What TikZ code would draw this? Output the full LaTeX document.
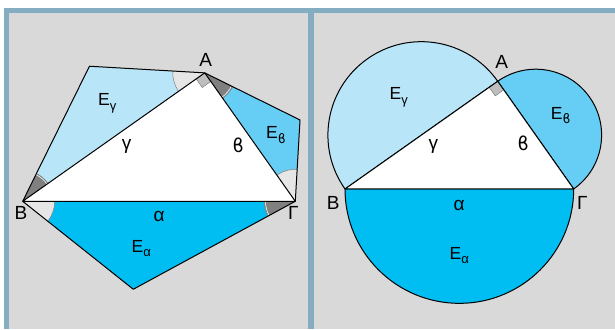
\documentclass[tikz,border=0pt]{standalone}
\usepackage{fontspec}
\setmainfont{Liberation Sans}
\newfontfamily\betafont{DejaVu Sans}
\usepackage{tikz}
\usetikzlibrary{calc,angles}
\definecolor{PanelGray}{RGB}{217,217,217}
\definecolor{FrameBlue}{RGB}{132,173,194}
\definecolor{AreaA}{RGB}{0,189,242}
\definecolor{AreaB}{RGB}{102,205,245}
\definecolor{AreaC}{RGB}{185,229,249}
\definecolor{LightAngle}{RGB}{230,230,230}
\definecolor{DarkAngle}{RGB}{128,128,128}
\definecolor{RightMark}{RGB}{190,190,190}
\newcommand{\vb}{{\betafont ϐ}}
\newcommand{\Esub}[1]{E\raisebox{-0.45ex}{\fontsize{13}{13}\selectfont #1}}

\begin{document}
\begin{tikzpicture}[x=1pt,y=1pt,
  side/.style={draw=black,line width=1pt,line join=round},
  vlabel/.style={font=\fontsize{19}{19}\selectfont,inner sep=0pt},
  slabel/.style={font=\fontsize{19}{19}\selectfont,inner sep=0pt},
  elabel/.style={font=\fontsize{17.5}{17.5}\selectfont,inner sep=0pt},
  lightang/.style={fill=LightAngle,draw=gray,line width=0.5pt,angle radius=32pt},
  darkang/.style={fill=DarkAngle,draw=gray,line width=0.5pt,angle radius=31pt},
  darkrim/.style={draw=white,line width=0.6pt,angle radius=29.8pt},
  rmark/.style={fill=RightMark,draw=gray,line width=0.5pt}]
  % background and frame
  \fill[white] (0,0) rectangle (615,329);
  \fill[FrameBlue] (3.5,0) rectangle (615,320.5);
  \fill[PanelGray] (9,0) rectangle (308.3,315.7);
  \fill[PanelGray] (314,0) rectangle (615,315.7);
  % left panel: similar triangles on the sides
  \coordinate (B) at (22.7,127.7);
  \coordinate (G) at (295.3,127.7);
  \coordinate (A) at ($(B)+(35.2:222.8)$);
  \coordinate (D) at ($(B)!0.5184!-38.5:(G)$);
  \coordinate (T) at ($(A)!0.5184!-38.5:(B)$);
  \coordinate (R) at ($(G)!0.5184!-38.5:(A)$);
  \fill[AreaA] (B) -- (D) -- (G) -- cycle;
  \fill[AreaC] (A) -- (T) -- (B) -- cycle;
  \fill[AreaB] (G) -- (R) -- (A) -- cycle;
  \fill[white] (A) -- (B) -- (G) -- cycle;
  % angle marks
  \pic[lightang] {angle=D--B--G};
  \pic[lightang] {angle=T--A--B};
  \pic[lightang] {angle=R--G--A};
  \pic[darkang] {angle=B--G--D};
  \pic[darkang] {angle=A--B--T};
  \pic[darkang] {angle=G--A--R};
  \pic[darkrim] {angle=B--G--D};
  \pic[darkrim] {angle=A--B--T};
  \pic[darkrim] {angle=G--A--R};
  \coordinate (Ab) at ($(A)!10.5pt!(B)$);
  \coordinate (Ag) at ($(A)!10.5pt!(G)$);
  \filldraw[rmark] (A) -- (Ab) -- ($(Ab)+(Ag)-(A)$) -- (Ag) -- cycle;
  \draw[side] (B) -- (D) -- (G) -- (R) -- (A) -- (T) -- cycle;
  \draw[side] (A) -- (B) -- (G) -- cycle;
  % right panel: semicircles on the sides
  \coordinate (B2) at (345,140);
  \coordinate (G2) at (573.7,140);
  \coordinate (A2) at ($(B2)+(35.2:186.9)$);
  \filldraw[side,fill=AreaA] (G2) arc[start angle=0,end angle=-180,radius=114.35] -- cycle;
  \filldraw[side,fill=AreaC] (A2) arc[start angle=35.2,end angle=215.2,radius=93.45] -- cycle;
  \filldraw[side,fill=AreaB] (A2) arc[start angle=125.2,end angle=-54.8,radius=65.9] -- cycle;
  \fill[white] (A2) -- (B2) -- (G2) -- cycle;
  \coordinate (A2b) at ($(A2)!10.5pt!(B2)$);
  \coordinate (A2g) at ($(A2)!10.5pt!(G2)$);
  \filldraw[rmark] (A2) -- (A2b) -- ($(A2b)+(A2g)-(A2)$) -- (A2g) -- cycle;
  \draw[side] (A2) -- (B2) -- (G2) -- cycle;
  % labels, left
  \node[vlabel] (lA) at (205.7,269) {A};
  \node[vlabel] (lB) at (21,115.7) {B};
  \node[vlabel] (lG) at (293.3,115.7) {Γ};
  \node[slabel] (sg) at (126.7,182.3) {γ};
  \node[slabel] (sb) at (238.3,184) {\vb};
  \node[slabel] (sa) at (159,112.3) {α};
  \node[elabel] (Eg) at (107.3,225.7) {\Esub{γ}};
  \node[elabel] (Eb) at (276,194) {\Esub{\vb}};
  \node[elabel] (Ea) at (141.3,80.7) {\Esub{α}};
  % labels, right
  \node[vlabel] (lA2) at (501.7,267.3) {A};
  \node[vlabel] (lB2) at (333.3,125.7) {B};
  \node[vlabel] (lG2) at (582.3,125.7) {Γ};
  \node[slabel] (sg2) at (433.3,182.3) {γ};
  \node[slabel] (sb2) at (523.3,185.7) {\vb};
  \node[slabel] (sa2) at (459,124) {α};
  \node[elabel] (Eg2) at (398.7,231.7) {\Esub{γ}};
  \node[elabel] (Eb2) at (560.7,213.3) {\Esub{\vb}};
  \node[elabel] (Ea2) at (459.3,73.3) {\Esub{α}};
\end{tikzpicture}
\end{document}
